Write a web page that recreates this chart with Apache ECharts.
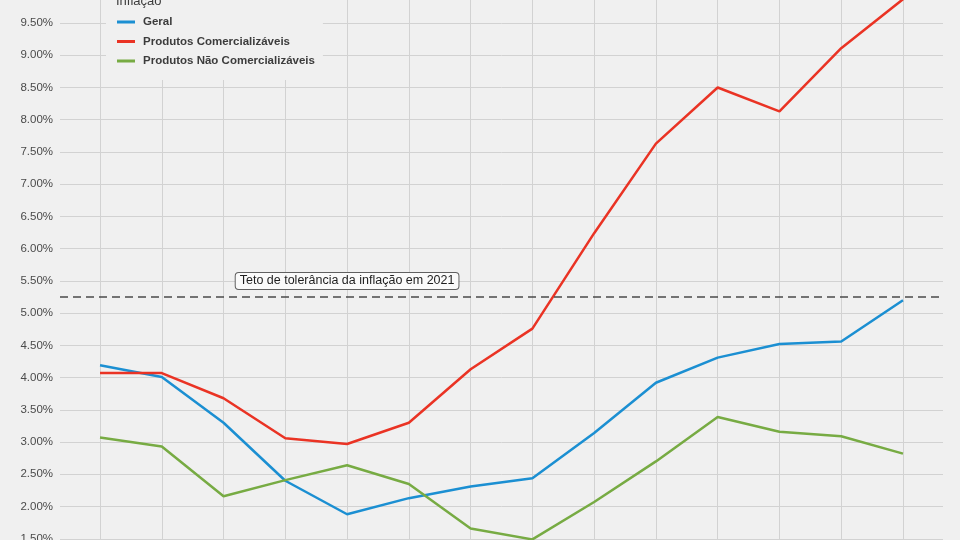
<!DOCTYPE html>
<html>
<head>
<meta charset="utf-8">
<script src="https://cdn.jsdelivr.net/npm/echarts@6/dist/echarts.min.js"></script>
<style>
html,body{margin:0;padding:0;background:#f0f0f0;}
#chart{width:960px;height:540px;}
</style>
</head>
<body>
<div id="chart"></div>
<script>
// Months (Jan 2020 - Feb 2021)
var categories = ['2020-01','2020-02','2020-03','2020-04','2020-05','2020-06','2020-07','2020-08','2020-09','2020-10','2020-11','2020-12','2021-01','2021-02'];
var geral = [4.19, 4.01, 3.30, 2.40, 1.88, 2.13, 2.31, 2.44, 3.14, 3.92, 4.31, 4.52, 4.56, 5.20];
var comercializaveis = [4.07, 4.07, 3.68, 3.06, 2.97, 3.30, 4.13, 4.76, 6.24, 7.63, 8.50, 8.13, 9.11, 9.87];
var naoComercializaveis = [3.07, 2.93, 2.16, 2.41, 2.64, 2.35, 1.66, 1.49, 2.07, 2.70, 3.39, 3.16, 3.09, 2.82];
var teto = 5.25;
var tetoLabel = 'Teto de tolerância da inflação em 2021';
var seriesNames = ['Geral', 'Produtos Comercializáveis', 'Produtos Não Comercializáveis'];
var legendTitle = 'Inflação';

var colors = ['#1b8fd2', '#ea3324', '#77ab43'];
var font = '"Liberation Sans", Arial, Helvetica, sans-serif';

function pts(arr) { return arr.map(function (v, i) { return [i, v]; }); }

var chart = echarts.init(document.getElementById('chart'), null, { renderer: 'canvas' });
var option = {
  backgroundColor: '#f0f0f0',
  animation: false,
  textStyle: { fontFamily: font },
  title: {
    text: legendTitle, left: 111, top: -10,
    textStyle: { fontSize: 13, fontWeight: 'normal', color: '#3c3c3c', fontFamily: font }
  },
  legend: {
    orient: 'vertical', left: 106, top: -10,
    padding: [25, 8, 12, 11],
    backgroundColor: '#f0f0f0',
    itemWidth: 18, itemHeight: 3, itemGap: 5.5,
    icon: 'rect',
    data: seriesNames,
    textStyle: { fontSize: 11.5, fontWeight: 'bold', color: '#3c3c3c', fontFamily: font, padding: [0, 0, 0, 3], lineHeight: 14 }
  },
  grid: { left: 60, right: 17, top: -9.2, bottom: -31, containLabel: false, outerBoundsMode: 'none' },
  xAxis: {
    type: 'value', min: -0.648, max: 13.648,
    axisLine: { show: false }, axisTick: { show: false }, axisLabel: { show: false },
    splitLine: { show: false }
  },
  yAxis: {
    type: 'value', min: 1, max: 10, interval: 0.5,
    axisLine: { show: false }, axisTick: { show: false },
    axisLabel: { margin: 7, fontSize: 11.5, color: '#4a4a4a', fontFamily: font,
      formatter: function (v) { return v.toFixed(2) + '%'; } },
    splitLine: { lineStyle: { color: '#d2d2d2', width: 1 } }
  },
  series: [
    {
      name: '_grid', type: 'line', data: [], z: 1, silent: true,
      markLine: {
        silent: true, symbol: ['none', 'none'], label: { show: false }, z: 1,
        lineStyle: { color: '#d2d2d2', width: 1, type: 'solid' },
        data: categories.map(function (c, i) { return { xAxis: i }; })
      }
    },
    {
      name: '_teto', type: 'line', data: [], z: 3, silent: true,
      markLine: {
        silent: true, symbol: ['none', 'none'], label: { show: false },
        lineStyle: { color: '#4a4a4a', width: 1.6, type: [8, 5] },
        data: [{ yAxis: teto }]
      },
      markPoint: {
        silent: true, symbol: 'rect', symbolSize: 0,
        data: [{ coord: [4, 5.5] }],
        label: {
          show: true, position: 'inside', formatter: tetoLabel,
          fontSize: 12.5, color: '#1e1e1e', fontFamily: font,
          backgroundColor: '#fafafa', borderColor: '#606060', borderWidth: 1,
          borderRadius: 3, padding: [2, 4, 1, 4]
        }
      }
    },
    { name: seriesNames[0], type: 'line', data: pts(geral), showSymbol: false, z: 4,
      lineStyle: { color: colors[0], width: 2.5 }, itemStyle: { color: colors[0] } },
    { name: seriesNames[1], type: 'line', data: pts(comercializaveis), showSymbol: false, z: 4,
      lineStyle: { color: colors[1], width: 2.5 }, itemStyle: { color: colors[1] } },
    { name: seriesNames[2], type: 'line', data: pts(naoComercializaveis), showSymbol: false, z: 4,
      lineStyle: { color: colors[2], width: 2.5 }, itemStyle: { color: colors[2] } }
  ]
};
chart.setOption(option);
</script>
</body>
</html>
